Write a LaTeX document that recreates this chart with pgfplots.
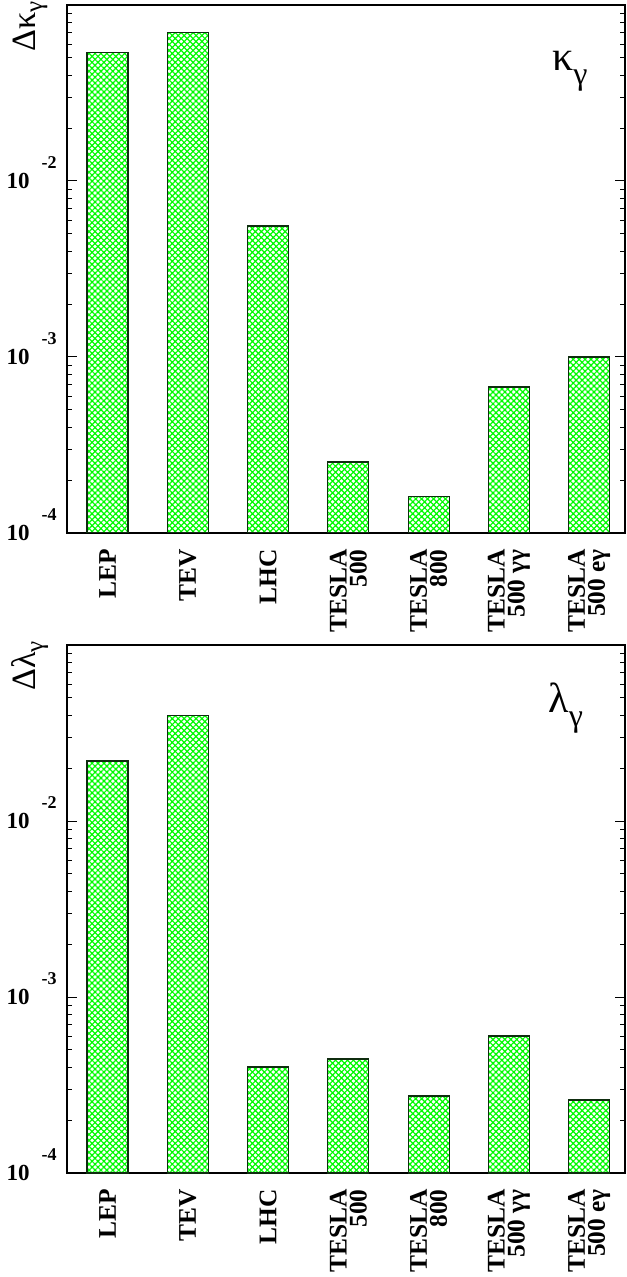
\documentclass[border=0pt]{standalone}
\usepackage{fontspec}
\setmainfont{Liberation Serif}
\usepackage{pgfplots}
\pgfplotsset{compat=1.18}
\usetikzlibrary{patterns.meta}
\definecolor{bargreen}{RGB}{0,250,0}
\definecolor{baredge}{RGB}{15,45,15}
\newcommand{\yl}[1]{\fontsize{11.5}{12}\selectfont\bfseries 10\hspace{6pt}\raisebox{10pt}[0pt][0pt]{\fontsize{9}{9}\selectfont -#1}}
\pgfplotsset{
  every axis/.append style={
    scale only axis, width=279pt, height=264pt,
    ymin=1e-4, ymax=1e-1, log origin=infty,
    xmin=-0.504, xmax=6.445,
    xtick={0,1,2,3,4,5,6},
    xticklabels={LEP, TEV, LHC, TESLA\\500, TESLA\\800, TESLA\\500 γγ, TESLA\\500 eγ},
    x tick style={draw=none},
    xticklabel style={rotate=90, anchor=east, align=right, inner sep=0pt,
      font=\fontsize{12.7}{10}\selectfont\bfseries},
    xticklabel shift=3pt,
    ytick={1e-4,1e-3,1e-2},
    yticklabels={\yl{4},\yl{3},\yl{2}},
    minor ytick={2e-4,3e-4,4e-4,5e-4,6e-4,7e-4,8e-4,9e-4,
                 2e-3,3e-3,4e-3,5e-3,6e-3,7e-3,8e-3,9e-3,
                 2e-2,3e-2,4e-2,5e-2,6e-2,7e-2,8e-2,9e-2},
    yticklabel style={anchor=east, inner sep=0pt},
    yticklabel shift=5pt,
    tick align=inside,
    major tick length=5pt, minor tick length=2.5pt,
    tick style={black, line width=0.5pt},
    axis line style={line width=0.8pt},
    ylabel style={at={(axis description cs:-0.0663,1.0076)}, anchor=east, inner sep=0pt},
    bar width=20.5pt,
  },
  hbar/.style={draw=baredge, line width=0.6pt,
      pattern={Hatch[angle=45,distance=2.1pt,line width=0.6pt]}, pattern color=bargreen},
}
\begin{document}
\begin{tikzpicture}
\path[use as bounding box] (0,0) rectangle (313pt,638.5pt);
\begin{semilogyaxis}[ybar, at={(33.5pt,372pt)}, anchor=south west,
  ylabel={\fontsize{17}{17}\selectfont Δκ\raisebox{-3.5pt}{\fontsize{12.5}{12.5}\selectfont γ}}]
\addplot[hbar] coordinates {(0,0.0538) (1,0.070) (2,0.00555) (3,2.53e-4) (4,1.62e-4) (5,6.75e-4) (6,1.0e-3)};
\node[inner sep=0pt] at (rel axis cs:0.901,0.875) {\fontsize{21}{21}\selectfont κ\raisebox{-7pt}{\fontsize{16}{16}\selectfont γ}};
\end{semilogyaxis}
\begin{semilogyaxis}[ybar, at={(33.5pt,52pt)}, anchor=south west,
  ylabel={\fontsize{17}{17}\selectfont Δλ\raisebox{-3.5pt}{\fontsize{12.5}{12.5}\selectfont γ}}]
\addplot[hbar] coordinates {(0,0.0219) (1,0.0396) (2,4.0e-4) (3,4.44e-4) (4,2.74e-4) (5,6.0e-4) (6,2.6e-4)};
\node[inner sep=0pt] at (rel axis cs:0.894,0.881) {\fontsize{21}{21}\selectfont λ\raisebox{-7pt}{\fontsize{16}{16}\selectfont γ}};
\end{semilogyaxis}
\end{tikzpicture}
\end{document}
